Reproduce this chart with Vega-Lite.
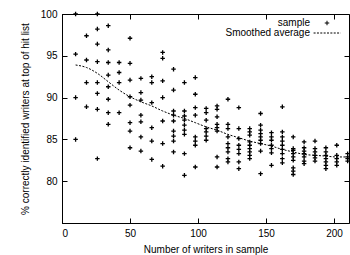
{
  "$schema": "https://vega.github.io/schema/vega-lite/v6.json",
  "width": 287,
  "height": 209,
  "autosize": {"type": "none"},
  "padding": {"left": 62, "top": 14, "right": 1, "bottom": 32},
  "background": "white",
  "config": {
    "font": "Liberation Sans",
    "view": {"stroke": "black", "strokeWidth": 1},
    "axis": {
      "domainColor": "black", "tickColor": "black", "labelColor": "black", "titleColor": "black",
      "labelFont": "Liberation Sans", "titleFont": "Liberation Sans",
      "labelFontSize": 10, "titleFontSize": 10, "titleFontWeight": "normal",
      "grid": false, "tickSize": -5, "labelPadding": 10
    },
    "legend": {"labelFont": "Liberation Sans", "labelFontSize": 10, "labelColor": "black"}
  },
  "datasets": {
    "sample": [
      {"writers":10,"pct":100},{"writers":10,"pct":95.2},{"writers":10,"pct":90.0},{"writers":10,"pct":85.0},
      {"writers":18,"pct":97.4},{"writers":18,"pct":94.5},{"writers":18,"pct":91.8},{"writers":18,"pct":88.9},
      {"writers":26,"pct":100},{"writers":26,"pct":98.2},{"writers":26,"pct":96.4},{"writers":26,"pct":94.3},{"writers":26,"pct":91.8},{"writers":26,"pct":90.5},{"writers":26,"pct":88.6},{"writers":26,"pct":82.7},
      {"writers":34,"pct":98.6},{"writers":34,"pct":95.7},{"writers":34,"pct":94.2},{"writers":34,"pct":92.7},{"writers":34,"pct":91.3},{"writers":34,"pct":89.8},{"writers":34,"pct":88.2},{"writers":34,"pct":86.8},
      {"writers":42,"pct":94.2},{"writers":42,"pct":93.0},{"writers":42,"pct":91.8},{"writers":42,"pct":88.2},
      {"writers":50,"pct":97.1},{"writers":50,"pct":94.1},{"writers":50,"pct":92.1},{"writers":50,"pct":90.1},{"writers":50,"pct":89.1},{"writers":50,"pct":87.0},{"writers":50,"pct":86.0},{"writers":50,"pct":84.0},
      {"writers":58,"pct":92.3},{"writers":58,"pct":90.6},{"writers":58,"pct":89.7},{"writers":58,"pct":87.9},{"writers":58,"pct":87.1},{"writers":58,"pct":85.3},{"writers":58,"pct":83.6},
      {"writers":66,"pct":92.5},{"writers":66,"pct":91.8},{"writers":66,"pct":89.4},{"writers":66,"pct":86.4},{"writers":66,"pct":84.8},{"writers":66,"pct":82.6},
      {"writers":74,"pct":95.4},{"writers":74,"pct":94.7},{"writers":74,"pct":92.0},{"writers":74,"pct":90.0},{"writers":74,"pct":87.2},{"writers":74,"pct":84.5},{"writers":74,"pct":81.8},
      {"writers":82,"pct":93.4},{"writers":82,"pct":90.9},{"writers":82,"pct":88.4},{"writers":82,"pct":87.9},{"writers":82,"pct":87.2},{"writers":82,"pct":86.0},{"writers":82,"pct":85.4},{"writers":82,"pct":84.8},{"writers":82,"pct":83.5},
      {"writers":90,"pct":91.8},{"writers":90,"pct":88.4},{"writers":90,"pct":87.8},{"writers":90,"pct":87.3},{"writers":90,"pct":86.7},{"writers":90,"pct":86.1},{"writers":90,"pct":85.6},{"writers":90,"pct":83.3},{"writers":90,"pct":80.7},
      {"writers":98,"pct":92.4},{"writers":98,"pct":90.4},{"writers":98,"pct":88.8},{"writers":98,"pct":87.9},{"writers":98,"pct":85.3},{"writers":98,"pct":84.8},{"writers":98,"pct":84.3},{"writers":98,"pct":81.7},
      {"writers":106,"pct":88.7},{"writers":106,"pct":88.2},{"writers":106,"pct":87.3},{"writers":106,"pct":86.3},{"writers":106,"pct":85.9},{"writers":106,"pct":85.4},{"writers":106,"pct":84.9},
      {"writers":114,"pct":89.0},{"writers":114,"pct":88.6},{"writers":114,"pct":87.7},{"writers":114,"pct":86.8},{"writers":114,"pct":86.4},{"writers":114,"pct":86.0},{"writers":114,"pct":82.9},{"writers":114,"pct":81.7},
      {"writers":122,"pct":89.8},{"writers":122,"pct":86.8},{"writers":122,"pct":86.3},{"writers":122,"pct":85.3},{"writers":122,"pct":84.5},{"writers":122,"pct":84.0},{"writers":122,"pct":83.5},{"writers":122,"pct":82.7},{"writers":122,"pct":82.3},
      {"writers":130,"pct":88.8},{"writers":130,"pct":86.3},{"writers":130,"pct":85.1},{"writers":130,"pct":84.3},{"writers":130,"pct":83.8},{"writers":130,"pct":83.3},{"writers":130,"pct":82.3},{"writers":130,"pct":81.5},
      {"writers":138,"pct":86.3},{"writers":138,"pct":85.9},{"writers":138,"pct":85.5},{"writers":138,"pct":84.7},{"writers":138,"pct":84.3},{"writers":138,"pct":83.9},{"writers":138,"pct":83.5},{"writers":138,"pct":83.1},{"writers":138,"pct":82.7},
      {"writers":146,"pct":88.1},{"writers":146,"pct":86.7},{"writers":146,"pct":86.1},{"writers":146,"pct":85.7},{"writers":146,"pct":85.3},{"writers":146,"pct":84.9},{"writers":146,"pct":84.5},{"writers":146,"pct":83.6},{"writers":146,"pct":80.9},
      {"writers":154,"pct":85.8},{"writers":154,"pct":85.3},{"writers":154,"pct":84.9},{"writers":154,"pct":84.3},{"writers":154,"pct":83.9},{"writers":154,"pct":83.4},{"writers":154,"pct":81.9},
      {"writers":162,"pct":88.9},{"writers":162,"pct":85.9},{"writers":162,"pct":85.3},{"writers":162,"pct":84.8},{"writers":162,"pct":84.3},{"writers":162,"pct":83.8},{"writers":162,"pct":83.3},{"writers":162,"pct":82.7},{"writers":162,"pct":82.2},
      {"writers":170,"pct":85.3},{"writers":170,"pct":83.9},{"writers":170,"pct":83.7},{"writers":170,"pct":83.3},{"writers":170,"pct":82.9},{"writers":170,"pct":82.5},{"writers":170,"pct":81.6},{"writers":170,"pct":81.2},{"writers":170,"pct":80.8},
      {"writers":178,"pct":84.7},{"writers":178,"pct":84.0},{"writers":178,"pct":83.6},{"writers":178,"pct":83.3},{"writers":178,"pct":82.9},{"writers":178,"pct":82.4},{"writers":178,"pct":82.1},
      {"writers":186,"pct":84.8},{"writers":186,"pct":83.9},{"writers":186,"pct":83.5},{"writers":186,"pct":83.1},{"writers":186,"pct":82.8},{"writers":186,"pct":82.4},
      {"writers":194,"pct":84.0},{"writers":194,"pct":83.5},{"writers":194,"pct":83.1},{"writers":194,"pct":82.7},{"writers":194,"pct":82.3},{"writers":194,"pct":81.9},{"writers":194,"pct":81.5},
      {"writers":202,"pct":84.3},{"writers":202,"pct":83.1},{"writers":202,"pct":82.7},{"writers":202,"pct":82.3},{"writers":202,"pct":81.9},
      {"writers":210,"pct":83.3},{"writers":210,"pct":82.9},{"writers":210,"pct":82.7},{"writers":210,"pct":82.4}
    ],
    "smooth": [
      {"writers":10,"pct":93.9},{"writers":18,"pct":93.6},{"writers":26,"pct":92.9},{"writers":34,"pct":91.9},
      {"writers":42,"pct":90.9},{"writers":50,"pct":90.1},{"writers":58,"pct":89.5},{"writers":66,"pct":89.0},
      {"writers":74,"pct":88.4},{"writers":82,"pct":87.9},{"writers":90,"pct":87.5},{"writers":98,"pct":87.0},
      {"writers":106,"pct":86.5},{"writers":114,"pct":86.1},{"writers":122,"pct":85.6},{"writers":130,"pct":85.2},
      {"writers":138,"pct":84.8},{"writers":146,"pct":84.5},{"writers":154,"pct":84.2},{"writers":162,"pct":83.8},
      {"writers":170,"pct":83.5},{"writers":178,"pct":83.2},{"writers":186,"pct":83.1},{"writers":194,"pct":83.0},
      {"writers":202,"pct":82.9},{"writers":210,"pct":82.9}
    ]
  },
  "layer": [
    {
      "data": {"name": "smooth"},
      "mark": {"type": "line", "stroke": "black", "strokeWidth": 1, "strokeDash": [2, 1.5], "interpolate": "monotone"},
      "encoding": {
        "x": {"field": "writers", "type": "quantitative",
              "scale": {"domain": [0, 211], "nice": false, "zero": false},
              "axis": {"orient": "top", "labels": false, "title": null, "values": [0, 50, 100, 150, 200], "domain": false}},
        "y": {"field": "pct", "type": "quantitative",
              "scale": {"domain": [75, 100], "nice": false, "zero": false},
              "axis": {"orient": "right", "labels": false, "title": null, "values": [80, 85, 90, 95, 100], "domain": false}}
      }
    },
    {
      "data": {"name": "sample"},
      "transform": [{"calculate": "'sample'", "as": "series"}],
      "mark": {"type": "point", "filled": false, "stroke": "black", "strokeWidth": 1.3, "size": 20, "opacity": 1},
      "encoding": {
        "x": {"field": "writers", "type": "quantitative",
              "axis": {"orient": "bottom", "title": "Number of writers in sample", "values": [0, 50, 100, 150, 200], "titlePadding": 6}},
        "y": {"field": "pct", "type": "quantitative",
              "axis": {"orient": "left", "title": "% correctly identified writers at top of hit list", "values": [80, 85, 90, 95, 100], "titlePadding": 10}},
        "shape": {"field": "series", "type": "nominal",
                  "scale": {"domain": ["sample", "Smoothed average"],
                            "range": ["M-1,0H1M0,-1V1", "M-6,0H-5.1M-4.5,0H-3.6M-3,0H-2.1M-1.5,0H-0.6M0,0H0.9M1.5,0H2.4M3,0H3.9M4.5,0H5.4M5.9,0H6"]},
                  "legend": {"title": null, "orient": "none", "legendX": 260, "legendY": 4,
                             "symbolSize": 20, "symbolStrokeColor": "black", "symbolStrokeWidth": 1,
                             "symbolFillColor": "transparent", "labelAlign": "right", "labelOffset": -22,
                             "padding": 0, "rowPadding": 0}}
      }
    },
    {
      "mark": {"type": "rule", "stroke": "white", "strokeWidth": 3},
      "encoding": {"x": {"datum": 0, "axis": null}, "y": {"datum": 75.5, "axis": null}, "y2": {"datum": 76.0}}
    },
    {
      "mark": {"type": "rule", "stroke": "black", "strokeWidth": 1},
      "encoding": {"x": {"datum": -2.3, "axis": null}, "x2": {"datum": 2.3}, "y": {"datum": 75.85, "axis": null}, "y2": {"datum": 76.3}}
    },
    {
      "mark": {"type": "rule", "stroke": "black", "strokeWidth": 1},
      "encoding": {"x": {"datum": -2.3, "axis": null}, "x2": {"datum": 2.3}, "y": {"datum": 75.2, "axis": null}, "y2": {"datum": 75.65}}
    }
  ]
}
